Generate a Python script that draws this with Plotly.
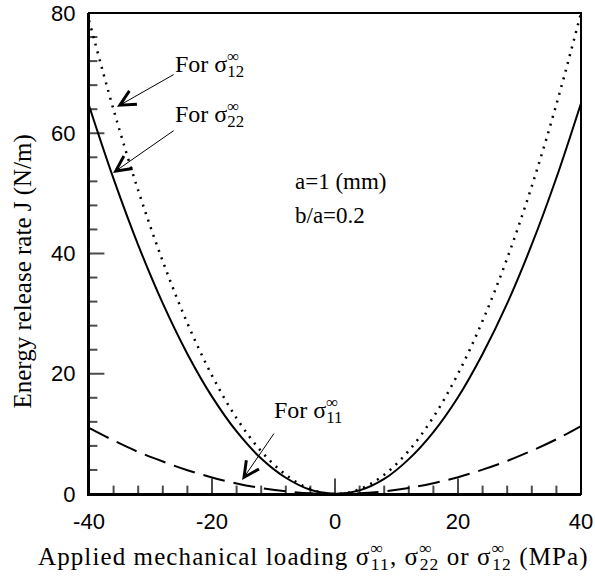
import plotly.graph_objects as go

# ---- data ----
x_vals = [-40, -36, -32, -28, -24, -20, -16, -12, -8, -4, 0,
          4, 8, 12, 16, 20, 24, 28, 32, 36, 40]
J_s22 = [64.6, 52.4, 41.4, 31.7, 23.3, 16.2, 10.4, 5.9, 2.7, 0.7, 0.05,
         0.6, 2.5, 5.8, 10.3, 16.1, 23.3, 31.7, 41.5, 52.6, 65.0]
J_s12 = [78.8, 63.9, 50.5, 38.7, 28.4, 19.7, 12.6, 7.1, 3.2, 0.8, 0.0,
         0.8, 3.2, 7.2, 12.8, 20.0, 28.8, 39.2, 51.2, 64.8, 80.0]
J_s11 = [11.0, 8.9, 7.0, 5.4, 3.96, 2.75, 1.76, 0.99, 0.44, 0.11, 0.0,
         0.11, 0.45, 1.0, 1.8, 2.8, 4.05, 5.5, 7.2, 9.1, 11.3]

# tick positions every 4 units, labels only at the 20-unit marks
x_tick_vals = [-40, -36, -32, -28, -24, -20, -16, -12, -8, -4, 0,
               4, 8, 12, 16, 20, 24, 28, 32, 36, 40]
x_tick_text = ["-40", "", "", "", "", "-20", "", "", "", "", "0",
               "", "", "", "", "20", "", "", "", "", "40"]
y_tick_vals = [0, 4, 8, 12, 16, 20, 24, 28, 32, 36, 40,
               44, 48, 52, 56, 60, 64, 68, 72, 76, 80]
y_tick_text = ["0", "", "", "", "", "20", "", "", "", "", "40",
               "", "", "", "", "60", "", "", "", "", "80"]
X_MIN, X_MAX = -40, 40
Y_MIN, Y_MAX = 0, 80

SERIF = "Liberation Serif, Times New Roman, serif"
SANS = "Liberation Sans, Arial, sans-serif"
INK = "black"

def sig(sub, shift=12):
    return ('σ<sup><span style="letter-spacing:-%dpx">∞</span></sup>' % shift +
            '<sub>' + sub + '</sub>')

fig = go.Figure()
fig.add_trace(go.Scatter(x=x_vals, y=J_s22, mode="lines",
                         line=dict(color=INK, width=2, shape="spline"), name="s22"))
fig.add_trace(go.Scatter(x=x_vals, y=J_s12, mode="lines",
                         line=dict(color=INK, width=2.5, dash="2px,6px", shape="spline"), name="s12"))
fig.add_trace(go.Scatter(x=x_vals, y=J_s11, mode="lines",
                         line=dict(color=INK, width=2, dash="22px,9px", shape="spline"), name="s11"))

# inward tick marks drawn at the axis tick values (half of each mark is clipped
# away by the plot area, leaving the inside part); longer marks at labelled values
x_tick_sizes = [22 if t else 12 for t in x_tick_text]
y_tick_sizes = [22 if t else 12 for t in y_tick_text]
fig.add_trace(go.Scatter(x=x_tick_vals, y=[Y_MIN] * len(x_tick_vals), mode="markers",
                         marker=dict(symbol="line-ns", size=x_tick_sizes,
                                     line=dict(width=2, color=INK)),
                         cliponaxis=True, hoverinfo="skip", showlegend=False))
fig.add_trace(go.Scatter(x=[X_MIN] * len(y_tick_vals), y=y_tick_vals, mode="markers",
                         marker=dict(symbol="line-ew", size=y_tick_sizes,
                                     line=dict(width=2, color=INK)),
                         cliponaxis=True, hoverinfo="skip", showlegend=False))

fig.update_layout(
    template="none",
    width=595, height=580,
    margin=dict(l=89, r=14, t=13, b=86),
    showlegend=False,
    xaxis=dict(range=[X_MIN, X_MAX], tickvals=x_tick_vals, ticktext=x_tick_text,
               ticks="", ticklabelstandoff=7,
               showline=True, linecolor=INK, linewidth=2, showgrid=False,
               zeroline=False,
               tickfont=dict(family=SANS, size=22, color=INK)),
    yaxis=dict(range=[Y_MIN, Y_MAX], tickvals=y_tick_vals, ticktext=y_tick_text,
               ticks="", ticklabelstandoff=7,
               showline=True, linecolor=INK, linewidth=2, showgrid=False,
               zeroline=False,
               tickfont=dict(family=SANS, size=22, color=INK)),
    shapes=[dict(type="rect", xref="paper", yref="paper", x0=0, x1=1, y0=0, y1=1,
                 line=dict(color=INK, width=2), layer="above")],
)

ann = []
# axis titles
ann.append(dict(xref="paper", yref="paper", x=0.457, y=-0.129,
                text='<span style="letter-spacing:1.1px">Applied mechanical loading ' +
                     sig("11") + ", " + sig("22") + " or " + sig("12") + " (MPa)</span>",
                showarrow=False, xanchor="center", yanchor="middle",
                font=dict(family=SERIF, size=25, color=INK)))
ann.append(dict(xref="paper", yref="paper", x=-0.135, y=0.4615,
                text="Energy release rate J (N/m)", textangle=-90,
                showarrow=False, xanchor="center", yanchor="middle",
                font=dict(family=SERIF, size=25, color=INK)))
# labels
labels = [(-26.3, 71.2, "For " + sig("12")),
          (-26.3, 62.9, "For " + sig("22")),
          (-10.2, 13.6, "For " + sig("11"))]
for lx, ly, t in labels:
    ann.append(dict(x=lx, y=ly, text=t, showarrow=False, xanchor="left", yanchor="middle",
                    font=dict(family=SERIF, size=24, color=INK)))
ann.append(dict(x=-6.8, y=51.9, text="a=1 (mm)", showarrow=False, xanchor="left",
                yanchor="middle", font=dict(family=SERIF, size=23, color=INK)))
ann.append(dict(x=-6.8, y=46.4, text="b/a=0.2", showarrow=False, xanchor="left",
                yanchor="middle", font=dict(family=SERIF, size=23, color=INK)))
# arrows (head -> tail)
arrows = [(-35.45, 64.4, -26.0, 69.9),
          (-36.1, 53.4, -26.0, 60.6),
          (-15.1, 2.33, -9.76, 10.3)]
for hx, hy, tx, ty in arrows:
    ann.append(dict(x=hx, y=hy, ax=tx, ay=ty, axref="x", ayref="y", text="",
                    showarrow=True, arrowhead=5, arrowsize=3, arrowwidth=1,
                    arrowcolor=INK))

fig.update_layout(annotations=ann)

fig.write_html("out.html")
